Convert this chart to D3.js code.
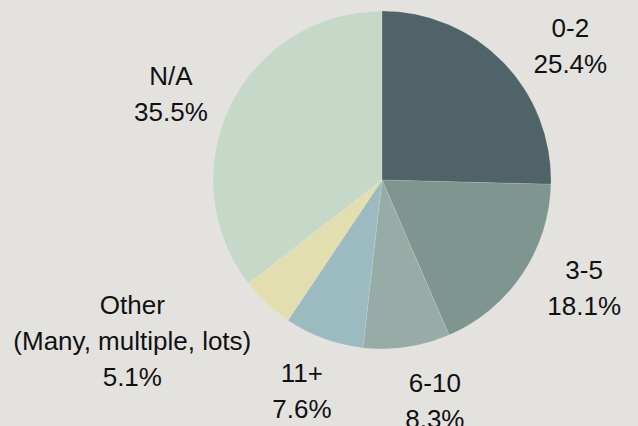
<!DOCTYPE html>
<html>
<head>
<meta charset="utf-8">
<script src="https://cdn.jsdelivr.net/npm/d3@7"></script>
<style>
  html, body { margin: 0; padding: 0; background: #e3e2de; }
  svg { display: block; }
</style>
</head>
<body>
<script>
// ---- data ----
const categories = ["0-2", "3-5", "6-10", "11+", "Other\n(Many, multiple, lots)", "N/A"];
const values = [25.4, 18.1, 8.3, 7.6, 5.1, 35.5];
const colors = ["#4f6369", "#7e968f", "#98aca7", "#9bbbc1", "#e3deb0", "#c6d9c9"];
// label layout tweaks (degrees offset from slice mid-angle, and distance from centre)
const labelAngleNudge = [8.9, -6.0, -5.0, 0.6, 14.2, -3.9];
const labelDistance = [231, 229, 227, 226, 297, 228];

const W = 638, H = 426;
const cx = 382, cy = 180, R = 169;
const fontSize = 26, lineH = 36;

const svg = d3.select("body").append("svg").attr("width", W).attr("height", H);
svg.append("rect").attr("width", W).attr("height", H).attr("fill", "#e3e2de");

const pie = d3.pie().value(d => d).sort(null);
const arcs = pie(values);
const arc = d3.arc().innerRadius(0).outerRadius(R);

const g = svg.append("g").attr("transform", `translate(${cx},${cy})`);
g.selectAll("path").data(arcs).join("path")
  .attr("d", arc)
  .attr("fill", (d, i) => colors[i])
  .attr("stroke", "#ffffff")
  .attr("stroke-opacity", 0.25)
  .attr("stroke-width", 0.5);

const fmt = v => v.toFixed(1) + "%";
arcs.forEach((d, i) => {
  const mid = (d.startAngle + d.endAngle) / 2 + labelAngleNudge[i] * Math.PI / 180;
  const dist = labelDistance[i];
  const x = Math.sin(mid) * dist;
  const y = -Math.cos(mid) * dist;
  const lines = categories[i].split("\n").concat([fmt(values[i])]);
  const n = lines.length;
  const t = g.append("text")
    .attr("text-anchor", "middle")
    .attr("font-family", "'Liberation Sans', Arial, sans-serif")
    .attr("font-size", fontSize)
    .attr("fill", "#111");
  lines.forEach((ln, k) => {
    t.append("tspan")
      .attr("x", x)
      .attr("y", y + (k - (n - 1) / 2) * lineH + fontSize * 0.35)
      .text(ln);
  });
});
</script>
</body>
</html>
